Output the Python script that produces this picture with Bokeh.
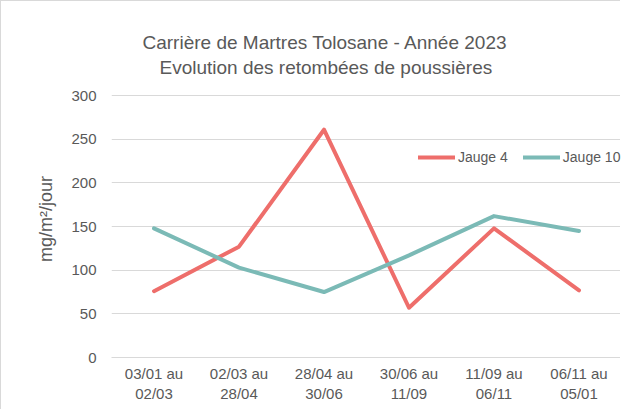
from bokeh.plotting import figure
from bokeh.models import FactorRange, Legend, LegendItem, Title
from bokeh.embed import file_html
from bokeh.resources import INLINE

categories = ["03/01 au\n02/03", "02/03 au\n28/04", "28/04 au\n30/06",
              "30/06 au\n11/09", "11/09 au\n06/11", "06/11 au\n05/01"]
jauge4 = [76, 127, 261, 57, 148, 77]
jauge10 = [148, 103, 75, 117, 162, 145]
y_ticks = [0, 50, 100, 150, 200, 250, 300]

FONT = "Liberation Sans"
TXT = "#595959"
RED = "#EE6E6B"
TEAL = "#7BBAB6"

p = figure(width=620, height=409, x_range=FactorRange(*categories), y_range=(0, 317.4),
           output_backend="svg", toolbar_location=None,
           min_border_left=110, min_border_right=0, min_border_top=79, min_border_bottom=53)
p.styles = {"border-left": "1px solid #D9D9D9", "border-top": "1px solid #D9D9D9"}
p.outline_line_color = None
p.background_fill_color = "white"
p.border_fill_color = "white"

r4 = p.line(categories, jauge4, line_color=RED, line_width=4, line_cap="round", line_join="round")
r10 = p.line(categories, jauge10, line_color=TEAL, line_width=4, line_cap="round", line_join="round")

t2 = Title(text="Evolution des retombées de poussières", align="left", offset=48,
           text_font=FONT, text_font_size="19px", text_font_style="normal", text_color=TXT,
           standoff=5)
t1 = Title(text="Carrière de Martres Tolosane - Année 2023", align="left", offset=31,
           text_font=FONT, text_font_size="19px", text_font_style="normal", text_color=TXT,
           standoff=0)
p.add_layout(t2, "above")
p.add_layout(t1, "above")

p.yaxis.ticker = y_ticks
p.yaxis.axis_line_color = None
p.yaxis.major_tick_line_color = None
p.yaxis.minor_tick_line_color = None
p.yaxis.major_tick_out = 0
p.yaxis.major_tick_in = 0
p.yaxis.major_label_text_font = FONT
p.yaxis.major_label_text_font_size = "15px"
p.yaxis.major_label_text_color = TXT
p.yaxis.major_label_standoff = 15
p.yaxis.axis_label = "mg/m²/jour"
p.yaxis.axis_label_text_font = FONT
p.yaxis.axis_label_text_font_size = "18px"
p.yaxis.axis_label_text_font_style = "normal"
p.yaxis.axis_label_text_color = TXT
p.yaxis.axis_label_standoff = 12

p.xaxis.axis_line_color = "#D9D9D9"
p.xaxis.major_tick_line_color = None
p.xaxis.minor_tick_line_color = None
p.xaxis.major_tick_out = 0
p.xaxis.major_tick_in = 0
p.xaxis.major_label_text_font = FONT
p.xaxis.major_label_text_font_size = "15px"
p.xaxis.major_label_text_color = TXT
p.xaxis.major_label_standoff = 7

p.xgrid.grid_line_color = None
p.ygrid.grid_line_color = "#D9D9D9"
p.ygrid.grid_line_width = 1

legend = Legend(items=[LegendItem(label="Jauge 4", renderers=[r4]),
                       LegendItem(label="Jauge 10", renderers=[r10])],
                orientation="horizontal", location=(307, 191),
                border_line_color=None, background_fill_alpha=0,
                label_text_font=FONT, label_text_font_size="14px", label_text_color=TXT,
                glyph_width=37, glyph_height=18, label_standoff=3, spacing=15,
                padding=0, margin=0)
p.add_layout(legend, "center")

open("out.html", "w").write(file_html(p, INLINE))
